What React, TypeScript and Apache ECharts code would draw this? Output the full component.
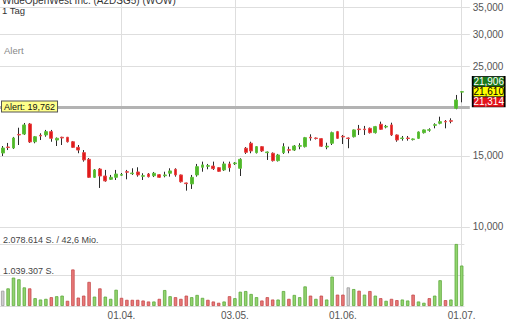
import React, { useEffect, useRef } from 'react';
import * as echarts from 'echarts';

const titleText = 'WideOpenWest Inc. (A2DSG5) (WOW)';
const periodText = '1 Tag';
const alertCaption = 'Alert';

const dates = [
  '02.03.', '03.03.', '04.03.', '05.03.', '08.03.', '09.03.', '10.03.', '11.03.', '12.03.', '15.03.',
  '16.03.', '17.03.', '18.03.', '19.03.', '22.03.', '23.03.', '24.03.', '25.03.', '26.03.', '29.03.',
  '30.03.', '31.03.',
  '01.04.', '05.04.', '06.04.', '07.04.', '08.04.', '09.04.', '12.04.', '13.04.', '14.04.', '15.04.',
  '16.04.', '19.04.', '20.04.', '21.04.', '22.04.', '23.04.', '26.04.', '27.04.', '28.04.', '29.04.',
  '30.04.',
  '03.05.', '04.05.', '05.05.', '06.05.', '07.05.', '10.05.', '11.05.', '12.05.', '13.05.', '14.05.',
  '17.05.', '18.05.', '19.05.', '20.05.', '21.05.', '24.05.', '25.05.', '26.05.', '27.05.', '28.05.',
  '01.06.', '02.06.', '03.06.', '04.06.', '07.06.', '08.06.', '09.06.', '10.06.', '11.06.', '14.06.',
  '15.06.', '16.06.', '17.06.', '18.06.', '21.06.', '22.06.', '23.06.', '24.06.', '25.06.', '28.06.',
  '29.06.', '30.06.',
  '01.07.',
];

const openP = [
  15.24, 15.77, 15.68, 16.94, 16.98, 17.98, 16.25, 16.86, 16.89, 17.21,
  16.41, 16.67, 16.67, 16.25, 15.74, 15.27, 14.70, 13.27, 13.91, 13.37,
  13.12, 13.27, 13.43, 13.70, 13.55, 13.68, 13.35, 13.52, 13.39, 13.47,
  13.39, 13.58, 13.89, 13.45, 12.85, 12.78, 13.45, 14.05, 14.13, 14.15,
  14.02, 13.84, 14.32, 14.34, 13.97, 15.66, 16.11, 15.27, 15.80, 15.27,
  15.22, 14.59, 15.27, 15.53, 15.50, 15.84, 15.80, 16.67, 16.60, 16.54,
  15.77, 16.11, 17.21, 16.76, 16.60, 16.72, 17.47, 17.47, 17.54, 17.11,
  17.95, 17.67, 17.88, 16.89, 16.55, 16.60, 16.45, 16.57, 17.11, 17.35,
  17.84, 18.05, 18.25, 18.32, 19.66, 21.56,
];

const closeP = [
  15.68, 15.73, 16.60, 16.89, 17.88, 16.23, 16.72, 16.79, 17.21, 16.57,
  16.57, 16.60, 16.25, 15.74, 15.50, 14.65, 13.27, 13.84, 13.37, 13.00,
  13.27, 13.52, 13.48, 13.66, 13.60, 13.45, 13.39, 13.32, 13.58, 13.27,
  13.45, 13.76, 13.45, 12.94, 12.80, 13.27, 14.10, 14.24, 14.18, 13.94,
  13.73, 14.32, 14.02, 14.40, 14.70, 15.30, 15.42, 15.80, 15.42, 15.33,
  14.59, 15.07, 15.80, 15.48, 15.86, 15.89, 16.63, 16.60, 16.55, 15.84,
  15.84, 17.11, 16.57, 16.70, 16.55, 17.38, 17.41, 17.41, 17.11, 17.71,
  17.44, 17.74, 16.89, 16.41, 16.60, 16.55, 16.51, 17.18, 17.38, 17.40,
  17.91, 18.22, 18.19, 18.26, 20.61, 21.61,
];

const lowP = [
  14.98, 15.50, 15.59, 15.95, 16.89, 16.14, 16.11, 16.41, 16.72, 16.25,
  15.86, 15.95, 16.18, 15.68, 15.22, 14.51, 13.22, 13.22, 12.49, 12.94,
  13.07, 13.07, 13.37, 13.12, 13.45, 13.32, 13.07, 13.26, 13.29, 13.22,
  13.27, 13.32, 13.32, 12.88, 12.30, 12.42, 13.32, 13.70, 13.89, 13.84,
  13.68, 13.76, 13.70, 14.24, 13.37, 15.16, 15.22, 15.20, 15.33, 14.65,
  14.52, 14.52, 15.16, 15.22, 15.42, 15.57, 15.73, 16.35, 16.46, 15.77,
  15.57, 15.95, 16.51, 16.04, 15.66, 16.65, 16.89, 16.89, 17.03, 17.03,
  17.38, 17.54, 16.79, 16.25, 16.35, 16.35, 16.37, 16.51, 17.03, 17.21,
  17.54, 17.95, 17.54, 18.05, 19.55, 20.34,
];

const highP = [
  15.86, 16.14, 16.70, 17.60, 18.08, 18.08, 16.79, 17.05, 17.38, 17.38,
  16.65, 16.72, 16.70, 16.32, 15.95, 15.50, 14.81, 13.91, 13.99, 13.84,
  13.45, 13.84, 13.60, 13.84, 13.97, 14.05, 13.58, 13.60, 13.68, 13.52,
  13.70, 13.97, 13.97, 13.48, 12.87, 13.45, 14.32, 14.51, 14.32, 14.51,
  14.07, 14.51, 14.51, 14.48, 14.79, 15.77, 16.25, 15.86, 15.86, 15.37,
  15.29, 15.16, 16.11, 15.80, 15.95, 16.11, 16.70, 16.95, 16.65, 16.60,
  16.16, 17.21, 17.28, 16.89, 16.65, 17.42, 17.88, 17.78, 17.62, 17.78,
  18.22, 17.88, 18.11, 16.94, 16.79, 16.79, 16.55, 17.23, 17.42, 17.54,
  18.05, 18.74, 18.39, 18.57, 21.21, 21.68,
];

const volume = [
  512000, 591000, 952000, 896000, 624000, 591000, 263000, 217000, 240000, 296000,
  328000, 348000, 174000, 1225000, 282000, 348000, 808000, 315000, 591000, 315000,
  240000, 545000, 273000, 207000, 207000, 207000, 184000, 151000, 151000, 240000,
  535000, 328000, 296000, 240000, 348000, 296000, 371000, 273000, 207000, 151000,
  108000, 151000, 328000, 263000, 479000, 502000, 404000, 296000, 184000, 296000,
  217000, 217000, 502000, 240000, 371000, 296000, 657000, 348000, 240000, 348000,
  217000, 985000, 381000, 381000, 624000, 568000, 512000, 381000, 502000, 348000,
  263000, 174000, 240000, 197000, 217000, 184000, 381000, 151000, 108000, 263000,
  348000, 864000, 197000, 217000, 2078614, 1356000,
];

// 1 = up day, -1 = down day, 0 = unchanged (volume colouring)
const volumeDir = [
  0, 1, 1, 1, 1, -1, 1, 1, 1, -1,
  1, 1, -1, -1, -1, -1, -1, 1, -1, 1,
  1, 1, -1, -1, -1, -1, -1, -1, 1, -1,
  1, 1, -1, -1, -1, 1, 1, 1, -1, -1,
  -1, 1, -1, 1, 1, 1, 1, 1, -1, -1,
  -1, 1, 1, -1, 1, 1, 1, -1, 1, -1,
  1, 1, -1, -1, 0, 1, -1, 1, -1, 1,
  -1, 1, -1, -1, 1, 1, -1, 1, 1, -1,
  1, 1, -1, 1, 1, 1,
];

const priceTicks = [10, 15, 25, 30, 35];
const monthTicks = ['01.04.', '03.05.', '01.06.', '01.07.'];
const alertLevel = 19.762;
const quoteBoxes = [21.906, 21.61, 21.314];
const maxVolume = 2078614;
const turnoverText = '42,6 Mio.';

const FONT = '"Liberation Sans", Arial, Helvetica, sans-serif';

const fmtPrice = (v: number) => v.toFixed(3).replace('.', ',');
const fmtVol = (v: number) => String(Math.round(v)).replace(/\B(?=(\d{3})+(?!\d))/g, '.');

const GRID_LINE = '#dedede';

export default function App() {
  const ref = useRef<HTMLDivElement>(null);

  useEffect(() => {
    if (!ref.current) return;
    const chart = echarts.init(ref.current, undefined, { renderer: 'svg' });

    const priceCats = [...dates, ''];
    const lastCat = dates[dates.length - 1];

    const volColors: Record<string, { color: string; borderColor: string }> = {
      '1': { color: '#92d46f', borderColor: '#5ea93c' },
      '-1': { color: '#e87a7a', borderColor: '#c54a4a' },
      '0': { color: '#cfcfcf', borderColor: '#9a9a9a' },
    };
    const boxStyle = [
      { bg: '#1c7a1c', fg: '#ffffff' },
      { bg: '#ffff00', fg: '#000000' },
      { bg: '#e3141c', fg: '#ffffff' },
    ];

    const option: any = {
      animation: false,
      backgroundColor: '#ffffff',
      textStyle: { fontFamily: FONT },
      title: [
        { text: titleText, left: 2, top: -5, padding: 0, textStyle: { fontSize: 10, fontWeight: 'normal', color: '#333', fontFamily: FONT } },
        { text: periodText, left: 2, top: 5, padding: 0, textStyle: { fontSize: 9.5, fontWeight: 'normal', color: '#333', fontFamily: FONT } },
        { text: alertCaption, left: 4, top: 45.5, padding: 0, textStyle: { fontSize: 9.5, fontWeight: 'normal', color: '#888', fontFamily: FONT } },
      ],
      grid: [
        { left: -1, top: 0, width: 470.8, height: 307.3 },
        { left: -1, top: 244, width: 465.4, height: 63.3 },
      ],
      xAxis: [
        {
          type: 'category', gridIndex: 0, data: priceCats, boundaryGap: true,
          axisLine: { show: false }, axisTick: { show: false }, axisLabel: { show: false }, splitLine: { show: false },
        },
        {
          type: 'category', gridIndex: 1, data: dates, boundaryGap: true,
          axisLine: { show: false }, axisTick: { show: false }, splitLine: { show: false },
          axisLabel: {
            interval: (_i: number, v: string) => monthTicks.includes(v),
            fontSize: 10, color: '#555', margin: 4, fontFamily: FONT,
          },
        },
      ],
      yAxis: [
        { type: 'log', gridIndex: 0, min: 6.33, max: 36.424, show: false },
        {
          type: 'value', gridIndex: 1, min: 0, max: maxVolume, interval: maxVolume / 2,
          axisLine: { show: false }, axisTick: { show: false },
          splitLine: { show: true, lineStyle: { color: GRID_LINE, width: 1 } },
          axisLabel: {
            inside: true, margin: 3, verticalAlign: 'bottom', lineHeight: 8,
            fontSize: 9, color: '#444', fontFamily: FONT,
            formatter: (v: number) => (v <= 0 ? '' : v >= maxVolume ? `${fmtVol(v)} S. / ${turnoverText}` : `${fmtVol(v)} S.`),
          },
        },
      ],
      series: [
        {
          name: 'wick', type: 'candlestick', xAxisIndex: 0, yAxisIndex: 0, z: 6,
          barWidth: 1,
          data: dates.map((_, i) => [openP[i], closeP[i], lowP[i], highP[i]]),
          itemStyle: { color: '#2a2a2a', color0: '#2a2a2a', borderColor: '#2a2a2a', borderColor0: '#2a2a2a', borderWidth: 1 },
          markLine: {
            silent: true, symbol: ['none', 'none'], animation: false,
            label: { show: false },
            data: [
              ...monthTicks.map((t) => ({ xAxis: t, lineStyle: { color: GRID_LINE, width: 1, type: 'solid' }, label: { show: false } })),
              ...priceTicks.map((p) => ({
                yAxis: p,
                lineStyle: { color: GRID_LINE, width: 1, type: 'solid' },
                label: { show: true, position: 'end', distance: 3, formatter: fmtPrice(p), color: '#555', fontSize: 10, fontFamily: FONT },
              })),
              {
                yAxis: alertLevel,
                lineStyle: { color: '#b3b3b3', width: 3, type: 'solid' },
                label: {
                  show: true, position: 'insideStartTop', distance: [2, -4],
                  formatter: `Alert: ${fmtPrice(alertLevel)}`,
                  backgroundColor: '#ffff8a', borderColor: '#555', borderWidth: 1, padding: [1, 2, 0, 2],
                  color: '#111', fontSize: 9, fontFamily: FONT,
                },
              },
            ],
          },
        },
        {
          name: 'body', type: 'candlestick', xAxisIndex: 0, yAxisIndex: 0, z: 7,
          barWidth: 3.2,
          data: dates.map((_, i) => [openP[i], closeP[i], Math.min(openP[i], closeP[i]), Math.max(openP[i], closeP[i])]),
          itemStyle: { color: '#4fb82a', color0: '#e01a1a', borderColor: '#62c23e', borderColor0: '#e84a4a', borderWidth: 1 },
          markPoint: {
            silent: true, animation: false,
            data: quoteBoxes.map((p, k) => ({
              coord: [lastCat, quoteBoxes[1]],
              symbol: 'rect', symbolSize: [32, 10], symbolOffset: [27, (k - 1) * 10.3],
              itemStyle: { color: boxStyle[k].bg, borderColor: '#000', borderWidth: 1 },
              label: { show: true, position: 'inside', formatter: fmtPrice(p), color: boxStyle[k].fg, fontSize: 10, fontFamily: FONT },
            })),
          },
        },
        {
          name: 'volume', type: 'bar', xAxisIndex: 1, yAxisIndex: 1, z: 6,
          barWidth: 3.4,
          data: volume.map((v, i) => ({
            value: v,
            itemStyle: { ...volColors[String(volumeDir[i])], borderWidth: 0.8 },
          })),
        },
      ],
    };

    chart.setOption(option);
    return () => chart.dispose();
  }, []);

  return (
    <div
      ref={ref}
      style={{ position: 'absolute', left: 0, top: 0, width: 510, height: 320, background: '#fff' }}
    />
  );
}
